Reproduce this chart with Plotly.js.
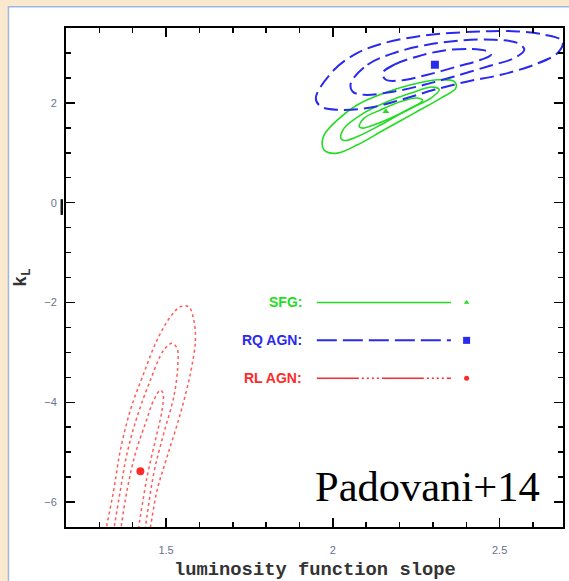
<!DOCTYPE html>
<html>
<head>
<meta charset="utf-8">
<script src="https://cdn.plot.ly/plotly-3.0.1.min.js"></script>
<style>
  html, body { margin: 0; padding: 0; background: #fbe9cf; }
  #chart { width: 569px; height: 581px; }
</style>
</head>
<body>
<div id="chart"></div>
<script>
// ---- Data (luminosity function slope vs k_L) ----
// SFG (green, solid) confidence contours
const sfgOuterX = [1.969, 1.974, 2.014, 2.074, 2.154, 2.234, 2.314, 2.364, 2.369, 2.324, 2.244, 2.154, 2.074, 2.014, 1.979, 1.969];
const sfgOuterY = [1.124, 1.359, 1.660, 1.961, 2.196, 2.363, 2.463, 2.429, 2.296, 2.096, 1.795, 1.460, 1.159, 0.992, 1.024, 1.124];
const sfgMidX = [2.024, 2.034, 2.084, 2.154, 2.234, 2.299, 2.319, 2.294, 2.224, 2.144, 2.074, 2.034, 2.024];
const sfgMidY = [1.293, 1.494, 1.760, 1.995, 2.196, 2.316, 2.262, 2.096, 1.861, 1.560, 1.325, 1.245, 1.293];
const sfgInnerX = [2.079, 2.094, 2.144, 2.204, 2.254, 2.269, 2.244, 2.184, 2.124, 2.089, 2.079];
const sfgInnerY = [1.526, 1.694, 1.861, 2.027, 2.096, 2.047, 1.927, 1.726, 1.560, 1.494, 1.526];
const sfgBestX = [2.159];
const sfgBestY = [1.827];

// RQ AGN (blue, dashed) confidence contours
const rqOuterX = [1.949, 2.004, 2.074, 2.154, 2.254, 2.354, 2.454, 2.554, 2.634, 2.689, 2.674, 2.604, 2.504, 2.404, 2.304, 2.204, 2.104, 2.014, 1.964, 1.949];
const rqOuterY = [2.096, 2.663, 3.000, 3.199, 3.331, 3.400, 3.432, 3.432, 3.366, 3.231, 3.000, 2.764, 2.563, 2.429, 2.262, 2.061, 1.895, 1.861, 1.927, 2.096];
const rqMidX = [2.054, 2.104, 2.184, 2.284, 2.384, 2.484, 2.554, 2.574, 2.544, 2.464, 2.364, 2.274, 2.184, 2.094, 2.059, 2.054];
const rqMidY = [2.396, 2.764, 3.000, 3.165, 3.251, 3.265, 3.199, 3.065, 2.898, 2.730, 2.529, 2.362, 2.228, 2.162, 2.228, 2.396];
const rqInnerX = [2.149, 2.184, 2.254, 2.334, 2.414, 2.464, 2.474, 2.444, 2.374, 2.284, 2.204, 2.159, 2.149];
const rqInnerY = [2.597, 2.764, 2.930, 3.051, 3.079, 3.031, 2.964, 2.864, 2.730, 2.563, 2.449, 2.463, 2.597];
const rqBestX = [2.306];
const rqBestY = [2.764];

// RL AGN (red, dotted) confidence contours (open at the bottom of the frame)
const rlOuterX = [1.318, 1.343, 1.363, 1.393, 1.433, 1.473, 1.513, 1.543, 1.568, 1.583, 1.588, 1.573, 1.543, 1.503, 1.473, 1.453, 1.447];
const rlOuterY = [-6.606, -5.764, -4.961, -4.158, -3.422, -2.754, -2.287, -2.086, -2.086, -2.353, -2.754, -3.422, -4.225, -5.095, -5.764, -6.500, -6.667];
const rlMidX = [1.342, 1.363, 1.383, 1.413, 1.453, 1.493, 1.518, 1.533, 1.535, 1.523, 1.493, 1.463, 1.438, 1.434];
const rlMidY = [-6.606, -5.764, -5.027, -4.293, -3.557, -2.955, -2.820, -2.921, -3.290, -3.892, -4.626, -5.429, -6.500, -6.667];
const rlInnerX = [1.363, 1.383, 1.408, 1.438, 1.463, 1.483, 1.491, 1.488, 1.468, 1.443, 1.418, 1.414];
const rlInnerY = [-6.606, -5.764, -5.027, -4.425, -3.958, -3.757, -3.823, -4.158, -4.760, -5.497, -6.500, -6.667];
const rlBestX = [1.423];
const rlBestY = [-5.382];

// In-plot key
const keyLabels = ["SFG:", "RQ AGN:", "RL AGN:"];
const keyLineX = [1.952, 2.354];
const keyY = [-2.0, -2.76, -3.52];
const keyMarkerX = 2.401;
const keyLabelX = 1.913;

// Axis ticks and titles
const xMajorTicks = [1.5, 2, 2.5];
const yMajorTicks = [-6, -4, -2, 0, 2];
const xTitle = 'luminosity function slope';
const yTitle = 'k<sub>L</sub>';

// ---- Styles ----
const GREEN = '#22dd22';
const BLUE = '#2a2aee';
const RED = '#ff2a2a';
const RED_DOT = 'rgba(255,50,50,0.8)';

function curve(x, y, color, dash, width) {
  return {
    type: 'scatter', mode: 'lines', x: x, y: y,
    line: { color: color, dash: dash, width: width, shape: 'spline', smoothing: 1 },
    hoverinfo: 'skip'
  };
}
function point(x, y, color, symbol, size) {
  return {
    type: 'scatter', mode: 'markers', x: x, y: y,
    marker: { color: color, symbol: symbol, size: size },
    hoverinfo: 'skip', cliponaxis: false
  };
}

const traces = [
  curve(sfgOuterX, sfgOuterY, GREEN, 'solid', 1.6),
  curve(sfgMidX, sfgMidY, GREEN, 'solid', 1.6),
  curve(sfgInnerX, sfgInnerY, GREEN, 'solid', 1.6),
  point(sfgBestX, sfgBestY, GREEN, 'triangle-up', 6),

  curve(rqOuterX, rqOuterY, BLUE, '14px,6px', 2),
  curve(rqMidX, rqMidY, BLUE, '14px,6px', 2),
  curve(rqInnerX, rqInnerY, BLUE, '14px,6px', 2),
  point(rqBestX, rqBestY, BLUE, 'square', 8),

  curve(rlOuterX, rlOuterY, RED_DOT, 'dot', 1.5),
  curve(rlMidX, rlMidY, RED_DOT, 'dot', 1.5),
  curve(rlInnerX, rlInnerY, RED_DOT, 'dot', 1.5),
  point(rlBestX, rlBestY, RED, 'circle', 8),

  // key lines
  { type: 'scatter', mode: 'lines', x: keyLineX, y: [keyY[0], keyY[0]],
    line: { color: GREEN, width: 1.6 }, hoverinfo: 'skip' },
  { type: 'scatter', mode: 'lines', x: keyLineX, y: [keyY[1], keyY[1]],
    line: { color: BLUE, width: 2, dash: '20px,6px' }, hoverinfo: 'skip' },
  { type: 'scatter', mode: 'lines', x: keyLineX, y: [keyY[2], keyY[2]],
    line: { color: RED, width: 1.6, dash: '42px,3px,2px,3px,2px,3px,2px,3px,2px,3px' }, hoverinfo: 'skip' },
  point([keyMarkerX], [keyY[0]], GREEN, 'triangle-up', 5),
  point([keyMarkerX], [keyY[1]], BLUE, 'square', 7),
  point([keyMarkerX], [keyY[2]], RED, 'circle', 5)
];

const keyColors = [GREEN, BLUE, RED];
const annotations = keyLabels.map((t, i) => ({
  x: keyLabelX, y: keyY[i], xref: 'x', yref: 'y', text: t, showarrow: false,
  xanchor: 'right', yanchor: 'middle',
  font: { family: 'Liberation Sans, Arial, sans-serif', size: 14, color: keyColors[i], weight: 'bold' }
}));
annotations.push({
  x: 2.283, y: -5.683, xref: 'x', yref: 'y', text: 'Padovani+14', showarrow: false,
  xanchor: 'center', yanchor: 'middle',
  font: { family: 'Liberation Serif, Times New Roman, serif', size: 42.5, color: '#000' }
});
// x-axis title (placed low, near the bottom edge as in the reference)
annotations.push({
  x: 0.5, y: -0.0855, xref: 'paper', yref: 'paper', text: xTitle, showarrow: false,
  xanchor: 'center', yanchor: 'middle',
  font: { family: 'Liberation Mono, Courier New, monospace', size: 18.8, color: '#333', weight: 'bold' }
});

const tickFont = { family: 'Liberation Sans, Arial, sans-serif', size: 11, color: '#6a7090' };

const layout = {
  width: 569, height: 581,
  margin: { l: 65.7, r: 5.5, t: 28.3, b: 54.3, pad: 0 },
  paper_bgcolor: '#fbe9cf',
  plot_bgcolor: '#ffffff',
  showlegend: false,
  hovermode: false,
  xaxis: {
    range: [1.2, 2.69], tickmode: 'array', tickvals: xMajorTicks,
    ticks: 'inside', ticklen: 9, tickwidth: 1.5, tickcolor: '#000',
    minor: { ticks: 'inside', dtick: 0.1, tick0: 0, ticklen: 5, tickwidth: 1.5, tickcolor: '#000' },
    showline: true, linecolor: '#000', linewidth: 2, mirror: 'ticks',
    showgrid: false, zeroline: false, tickfont: tickFont, ticklabelstandoff: 12
  },
  yaxis: {
    range: [-6.5, 3.5], tickmode: 'array', tickvals: yMajorTicks,
    ticks: 'inside', ticklen: 9, tickwidth: 1.5, tickcolor: '#000',
    minor: { ticks: 'inside', dtick: 0.5, tick0: 0, ticklen: 5, tickwidth: 1.5, tickcolor: '#000' },
    showline: true, linecolor: '#000', linewidth: 2, mirror: 'ticks',
    showgrid: false, zeroline: false, tickfont: tickFont, ticklabelstandoff: 5,
    title: { text: yTitle, font: { family: 'Liberation Mono, Courier New, monospace', size: 18, color: '#333', weight: 'bold' }, standoff: 13 }
  },
  shapes: [
    { type: 'rect', layer: 'below', xref: 'paper', yref: 'paper',
      x0: -0.1158, x1: 1.02, y0: -0.12, y1: 1.0427,
      fillcolor: '#ffffff', line: { color: '#9db9e2', width: 1.5 } },
    { type: 'line', xref: 'paper', yref: 'paper',
      x0: -0.0085, x1: -0.0085, y0: 0.6254, y1: 0.657,
      line: { color: '#111', width: 2.5 } }
  ],
  annotations: annotations
};

Plotly.newPlot('chart', traces, layout, { staticPlot: true, displayModeBar: false });
</script>
</body>
</html>
